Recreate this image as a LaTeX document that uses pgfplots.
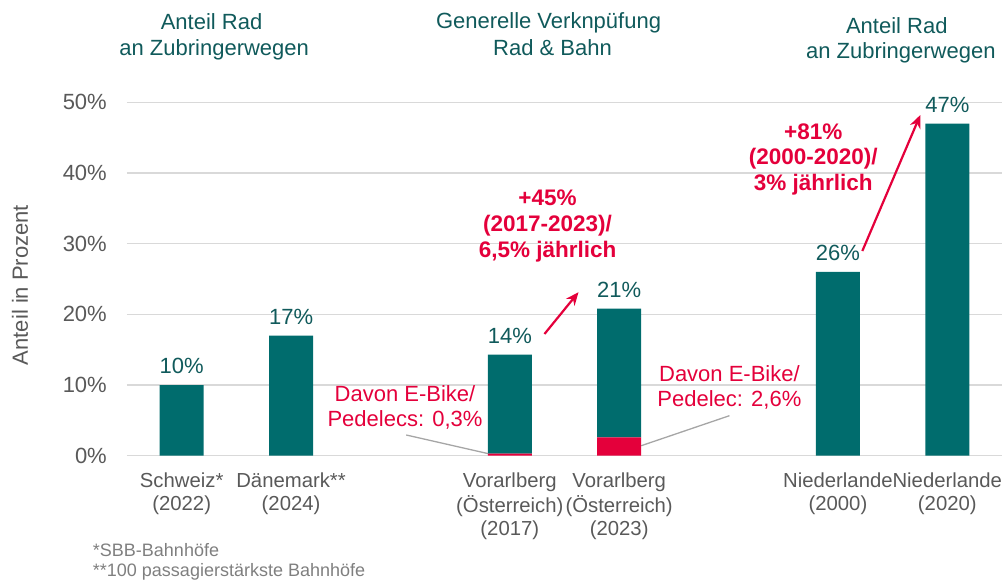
\documentclass[border=0pt]{standalone}
\usepackage{fontspec}
\setmainfont{Liberation Sans}
\usepackage{pgfplots}
\pgfplotsset{compat=1.18}
\usetikzlibrary{arrows.meta}
\definecolor{teal1}{HTML}{006C6D}
\definecolor{tealtext}{HTML}{105A5B}
\definecolor{redc}{HTML}{E4003B}
\definecolor{gridc}{HTML}{D9D9D9}
\definecolor{ticktext}{HTML}{595959}
\definecolor{foot}{HTML}{7F7F7F}
\definecolor{leader}{HTML}{A6A6A6}
\newcommand{\fa}{\fontsize{22bp}{26bp}\selectfont}
\newcommand{\fr}{\fontsize{22.5bp}{26bp}\selectfont\bfseries}
\begin{document}
\begin{tikzpicture}
\begin{axis}[
  at={(0,0)}, anchor=south west,
  scale only axis, width=875bp, height=353.4bp,
  xmin=-0.5, xmax=7.5, ymin=0, ymax=50,
  axis line style={draw=none},
  ymajorgrids, grid style={gridc, line width=1.5bp},
  ytick={0,10,20,30,40,50},
  yticklabels={0\%,10\%,20\%,30\%,40\%,50\%},
  xtick={0,1,3,4,6,7},
  xticklabels={{\strut Schweiz*\\(2022)},{\strut Dänemark**\\(2024)},{\strut Vorarlberg\\(Österreich)\\(2017)},{\strut Vorarlberg\\(Österreich)\\(2023)},{\strut Niederlande\\(2000)},{\strut Niederlande\\(2020)}},
  major tick length=0pt,
  yticklabel style={font=\fa, text=ticktext, anchor=east, inner sep=0pt, xshift=-20bp},
  xticklabel style={font=\fontsize{20.3bp}{23bp}\selectfont, text=ticktext, align=center, anchor=north, inner sep=0pt, yshift=-15.5bp},
  ybar stacked, bar width=0.402,
  clip=false,
  ylabel={Anteil in Prozent},
  ylabel style={at={(rel axis cs:-0.1223,0.483)}, anchor=center, font=\fa, text=ticktext},
]
\addplot[fill=redc, draw=none] coordinates {(0,0) (1,0) (3,0.3) (4,2.6) (6,0) (7,0)};
\addplot[fill=teal1, draw=none] coordinates {(0,10) (1,17) (3,14.0) (4,18.2) (6,26) (7,47)};

% value labels
\node[anchor=base, yshift=11.5bp, font=\fa, text=tealtext] at (axis cs:0,10) {10\%};
\node[anchor=base, yshift=11.5bp, font=\fa, text=tealtext] at (axis cs:1,17) {17\%};
\node[anchor=base, yshift=11.5bp, font=\fa, text=tealtext] at (axis cs:3,14.3) {14\%};
\node[anchor=base, yshift=11.5bp, font=\fa, text=tealtext] at (axis cs:4,20.8) {21\%};
\node[anchor=base, yshift=11.5bp, font=\fa, text=tealtext] at (axis cs:6,26) {26\%};
\node[anchor=base, yshift=11.5bp, font=\fa, text=tealtext] at (axis cs:7,47) {47\%};

% titles
\node[anchor=base, font=\fa, text=tealtext] at (axis cs:0.273,60.23) {Anteil Rad};
\node[anchor=base, font=\fa, text=tealtext] at (axis cs:0.297,56.69) {an Zubringerwegen};
\node[anchor=base, font=\fa, text=tealtext] at (axis cs:3.354,60.45) {Generelle Verknpüfung};
\node[anchor=base, font=\fa, text=tealtext] at (axis cs:3.390,56.69) {Rad \& Bahn};
\node[anchor=base, font=\fa, text=tealtext] at (axis cs:6.538,59.76) {Anteil Rad};
\node[anchor=base, font=\fa, text=tealtext] at (axis cs:6.575,56.23) {an Zubringerwegen};

% red growth annotations
\node[anchor=base, font=\fr, text=redc] at (axis cs:3.345,35.33) {+45\%};
\node[anchor=base, font=\fr, text=redc] at (axis cs:3.345,31.69) {(2017-2023)/};
\node[anchor=base, font=\fr, text=redc] at (axis cs:3.345,28.11) {6,5\% jährlich};
\node[anchor=base, font=\fr, text=redc] at (axis cs:5.775,44.67) {+81\%};
\node[anchor=base, font=\fr, text=redc] at (axis cs:5.775,41.13) {(2000-2020)/};
\node[anchor=base, font=\fr, text=redc] at (axis cs:5.775,37.59) {3\% jährlich};
\draw[redc, line width=2.2bp, -{Stealth[length=13bp,width=11bp]}] (axis cs:3.317,17.22) -- (axis cs:3.628,23.13);
\draw[redc, line width=2.2bp, -{Stealth[length=13bp,width=11bp]}] (axis cs:6.223,28.96) -- (axis cs:6.753,48.2);

% e-bike notes
\node[anchor=base, font=\fa, text=redc] at (axis cs:2.042,7.64) {Davon E-Bike/};
\node[anchor=base, font=\fa, text=redc] at (axis cs:2.042,4.10) {Pedelecs: 0,3\%};
\node[anchor=base, font=\fa, text=redc] at (axis cs:5.008,10.47) {Davon E-Bike/};
\node[anchor=base, font=\fa, text=redc] at (axis cs:5.008,6.93) {Pedelec: 2,6\%};
\draw[leader, line width=1.3bp] (axis cs:2.053,2.93) -- (axis cs:2.8,0.3);
\draw[leader, line width=1.3bp] (axis cs:5.008,5.66) -- (axis cs:4.201,1.41);

% footnotes
\node[anchor=base west, inner sep=0pt, font=\fontsize{18bp}{21bp}\selectfont, text=foot] at (axis cs:-0.813,-14.29) {*SBB-Bahnhöfe};
\node[anchor=base west, inner sep=0pt, font=\fontsize{18bp}{21bp}\selectfont, text=foot] at (axis cs:-0.813,-17.12) {**100 passagierstärkste Bahnhöfe};
\end{axis}
\pgfresetboundingbox
\useasboundingbox (-127bp,-125.3bp) rectangle (878bp,455.7bp);
\end{tikzpicture}
\end{document}
